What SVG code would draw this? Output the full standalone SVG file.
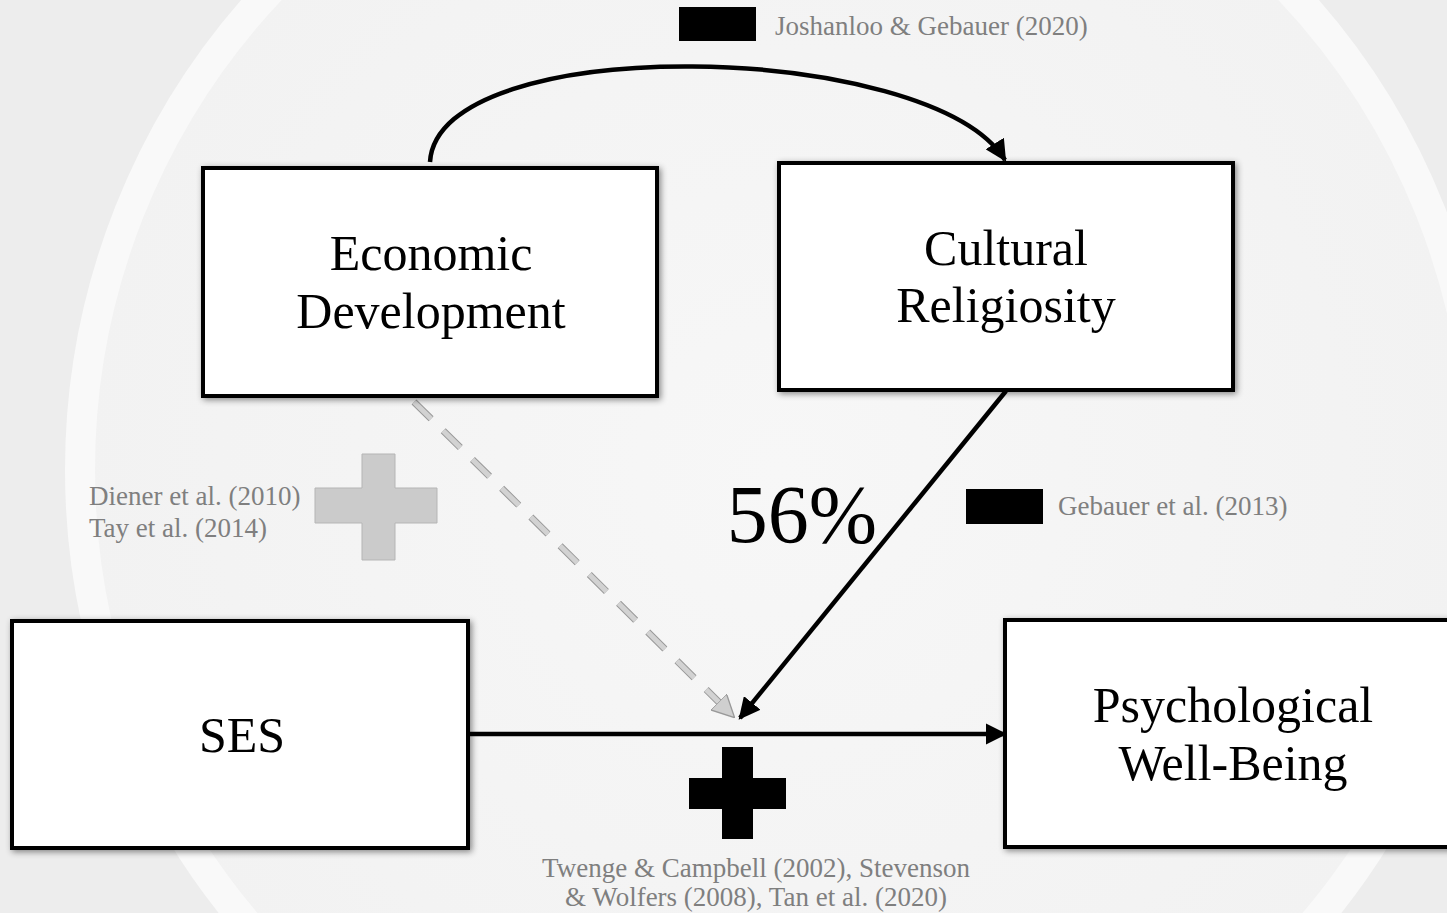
<svg xmlns="http://www.w3.org/2000/svg" width="1447" height="913" viewBox="0 0 1447 913">
<style>
.box{fill:#fff;stroke:#000;stroke-width:4;filter:url(#sh)}
.lbl{font-family:"Liberation Serif",serif;font-size:50px;fill:#000;text-anchor:middle}
.ref{font-family:"Liberation Serif",serif;font-size:27px;fill:#7f7f7f}
.conn{fill:none;stroke:#000;stroke-width:4.5}
</style>
<defs>
<filter id="sh" x="-10%" y="-10%" width="120%" height="120%">
<feDropShadow dx="2" dy="2" stdDeviation="3" flood-color="#000" flood-opacity="0.45"/>
</filter>
<marker id="ah" viewBox="0 0 10 10" refX="9" refY="5" markerWidth="4.8" markerHeight="4.8" orient="auto" markerUnits="strokeWidth">
<path d="M0,0 L10,5 L0,10 Z" fill="#000"/>
</marker>
<marker id="ahg" viewBox="0 0 10 10" refX="9" refY="5" markerWidth="4.5" markerHeight="4.5" orient="auto" markerUnits="strokeWidth">
<path d="M0,0 L10,5 L0,10 Z" fill="#cfcfcf" stroke="#999" stroke-width="0.6"/>
</marker>
<radialGradient id="bg" cx="0.5" cy="0.5" r="0.5">
<stop offset="0" stop-color="#f7f7f7"/>
<stop offset="1" stop-color="#f2f2f2"/>
</radialGradient>
</defs>
<g id="background">
<rect x="0" y="0" width="1447" height="913" fill="#ededed"/>
<circle cx="780" cy="470" r="700" fill="url(#bg)"/>
<circle cx="780" cy="470" r="700" fill="none" stroke="#f9f9f9" stroke-width="30"/>
</g>
<g id="connectors">
<path class="conn" d="M430,162 C438,30 930,40 1005,160" marker-end="url(#ah)"/>
<path class="conn" d="M468,734 L1005,734" marker-end="url(#ah)"/>
<path class="conn" d="M1006,391 L740,718" marker-end="url(#ah)"/>
<path d="M414,402 L733,716" fill="none" stroke="#999" stroke-width="7" stroke-dasharray="24 17"/>
<path d="M414,402 L733,716" fill="none" stroke="#d2d2d2" stroke-width="5" stroke-dasharray="24 17" marker-end="url(#ahg)"/>
</g>
<g id="node-economic">
<rect class="box" x="203" y="168" width="454" height="228"/>
<text class="lbl" x="431" y="270">Economic</text>
<text class="lbl" x="431" y="328">Development</text>
</g>
<g id="node-cultural">
<rect class="box" x="779" y="163" width="454" height="227"/>
<text class="lbl" x="1006" y="265">Cultural</text>
<text class="lbl" x="1006" y="322">Religiosity</text>
</g>
<g id="node-ses">
<rect class="box" x="12" y="621" width="456" height="227"/>
<text class="lbl" x="242" y="752">SES</text>
</g>
<g id="node-pwb">
<rect class="box" x="1005" y="620" width="460" height="227"/>
<text class="lbl" x="1233" y="722">Psychological</text>
<text class="lbl" x="1233" y="780">Well-Being</text>
</g>
<g id="annot-top">
<rect x="679" y="7" width="77" height="34" fill="#000"/>
<text class="ref" x="775" y="35">Joshanloo &amp; Gebauer (2020)</text>
</g>
<g id="annot-gebauer">
<rect x="966" y="489" width="77" height="35" fill="#000"/>
<text class="ref" x="1058" y="515">Gebauer et al. (2013)</text>
</g>
<g id="annot-diener">
<text class="ref" x="89" y="505">Diener et al. (2010)</text>
<text class="ref" x="89" y="537">Tay et al. (2014)</text>
<path d="M362,454 H395 V488 H437 V523 H395 V560 H362 V523 H315 V488 H362 Z" fill="#cbcbcb" stroke="#b5b5b5" stroke-width="1"/>
</g>
<g id="annot-bottom">
<path d="M722,747 H753 V778 H786 V809 H753 V839 H722 V809 H689 V778 H722 Z" fill="#000"/>
<text class="ref" x="756" y="877" text-anchor="middle">Twenge &amp; Campbell (2002), Stevenson</text>
<text class="ref" x="756" y="906" text-anchor="middle">&amp; Wolfers (2008), Tan et al. (2020)</text>
</g>
<g id="pct">
<text x="802" y="542" font-family="Liberation Serif, serif" font-size="82" fill="#000" text-anchor="middle">56%</text>
</g>
</svg>
